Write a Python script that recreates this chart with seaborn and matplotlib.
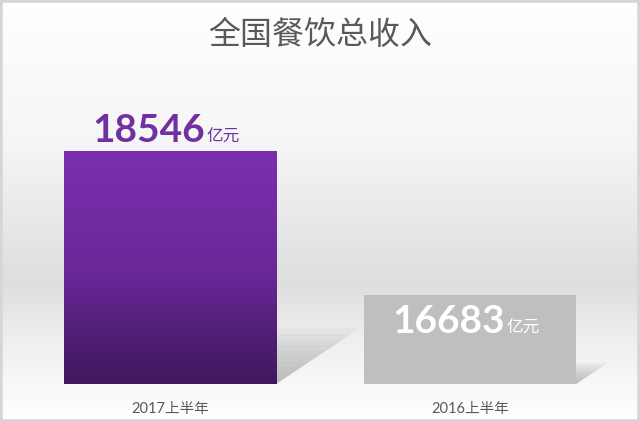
"""
全国餐饮总收入: 2017上半年 vs 2016上半年 (two-bar comparison).
"""

import matplotlib
matplotlib.use("Agg")

import matplotlib.pyplot as plt
import numpy as np
import pandas as pd
import seaborn as sns
from matplotlib.colors import LinearSegmentedColormap
from matplotlib.patches import Polygon

# data
periods = ["2017上半年", "2016上半年"]
revenue = [18546, 16683]
unit = "亿元"
title = "全国餐饮总收入"

bar_colors = ["#7b2fae", "#bfbfbf"]
label_colors = ["#7030a0", "#ffffff"]

CJK = ["Noto Sans CJK SC", "DejaVu Sans"]
NUM = ["Lato", "Noto Sans CJK SC"]

sns.set_theme(style="white")
plt.rcParams["font.family"] = CJK

W, H = 640, 422
fig = plt.figure(figsize=(W / 100, H / 100), dpi=100)

# background: white -> grey band -> white
bg = fig.add_axes([0, 0, 1, 1], zorder=0)
stops = [(0.0, "#ffffff"), (0.33, "#f6f6f6"), (0.67, "#dedede"),
         (0.80, "#eeeeee"), (0.92, "#f9f9f9"), (1.0, "#ffffff")]
bg_cmap = LinearSegmentedColormap.from_list("bg", stops)
bg.imshow(np.linspace(0, 1, 256)[:, None], aspect="auto", cmap=bg_cmap,
          extent=[0, 1, 1, 0])
bg.set_xlim(0, 1)
bg.set_ylim(1, 0)
bg.axis("off")
fig.patches.append(plt.Rectangle((0, 0), 1, 1, transform=fig.transFigure,
                                 fill=False, edgecolor="#d6d6d6", linewidth=4,
                                 zorder=10))

# main axes: bars sit on y=384px, one category step = 300px
y_min = 15523
px_per_unit = 13.03
ax = fig.add_axes([0, 38 / H, 1, 384 / H], zorder=1)
ax.patch.set_alpha(0)

df = pd.DataFrame({"period": periods, "revenue": revenue})
sns.barplot(data=df, x="period", y="revenue", hue="period",
            palette=bar_colors, width=0.7067, legend=False, saturation=1,
            linewidth=0, ax=ax, zorder=3)

XLIM = (-0.5667, 1.5667)
YLIM = (y_min, y_min + 384 * px_per_unit)
ax.set_xlim(*XLIM)
ax.set_ylim(*YLIM)
ax.set_xlabel("")
ax.set_ylabel("")
ax.set_yticks([])
sns.despine(ax=ax, left=True, bottom=True)
ax.tick_params(axis="x", length=0, pad=13, labelsize=10.5, labelcolor="#595959")
for lab in ax.get_xticklabels():
    lab.set_fontfamily(NUM)

fig.suptitle(title, y=0.955, fontsize=23, color="#595959", fontfamily=CJK)

# gradient fill for the purple bar (visible part only)
bars = ax.patches[:len(revenue)]
purple = LinearSegmentedColormap.from_list("purple", ["#7b2fae", "#6a289a", "#40185e"])
p0 = bars[0]
x0 = p0.get_x()
top0 = p0.get_y() + p0.get_height()
ax.imshow(np.linspace(0, 1, 256)[:, None], aspect="auto", cmap=purple,
          origin="upper", extent=[x0, x0 + p0.get_width(), y_min, top0],
          zorder=3.5)
ax.set_xlim(*XLIM)
ax.set_ylim(*YLIM)

# soft skewed drop shadows behind bars (layered, built from each bar's box)
fig.canvas.draw()
ax_bottom = ax.get_window_extent().y0
n_layers = 10
for p in bars:
    bb = p.get_window_extent()
    base = max(bb.y0, ax_bottom)
    hpx = bb.y1 - base
    for k in range(1, n_layers + 1):
        f = k / n_layers
        dx, dy = 0.36 * hpx * f, 0.24 * hpx * f
        verts = [(bb.x0, base), (bb.x1, base), (bb.x1 + dx, base + dy),
                 (bb.x0 + dx, base + dy)]
        ax.add_artist(Polygon(verts, closed=True, transform=None,
                              facecolor="#9a9a9a", alpha=0.085,
                              edgecolor="none", zorder=2))

# value labels: above purple bar, inside grey bar
offsets = [10, -38]
for i, (v, c) in enumerate(zip(revenue, label_colors)):
    ax.annotate(f"{v}", xy=(i, v), xytext=(35, offsets[i]),
                textcoords="offset pixels", ha="right", va="baseline",
                fontsize=28, fontweight="bold", color=c, fontfamily=NUM,
                zorder=5)
    ax.annotate(unit, xy=(i, v), xytext=(36, offsets[i]),
                textcoords="offset pixels", ha="left", va="baseline",
                fontsize=12, color=c, fontfamily=CJK, zorder=5)

fig.savefig("out.png", dpi=100)
plt.close(fig)
